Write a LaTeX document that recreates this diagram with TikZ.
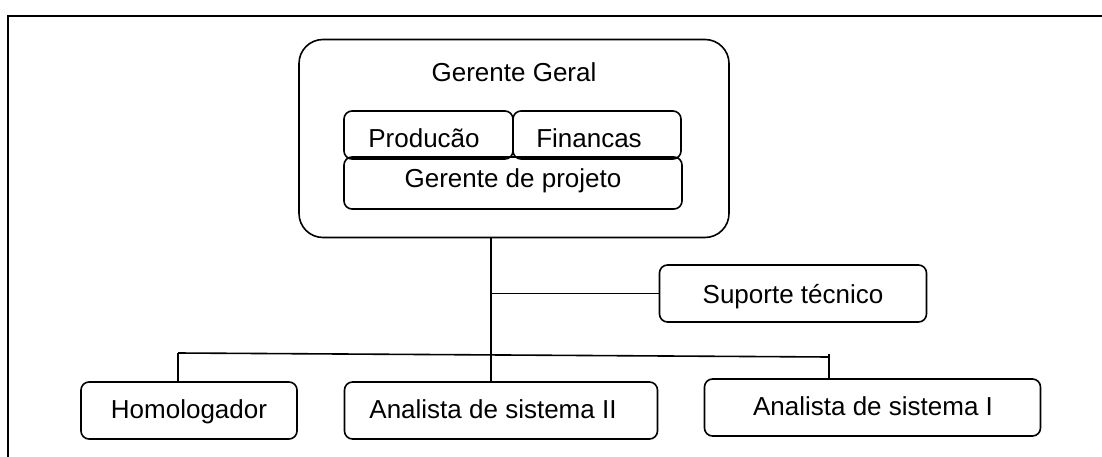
\documentclass[tikz,border=0pt]{standalone}
\usepackage{fontspec}
\setmainfont{Liberation Sans}
\begin{document}
\begin{tikzpicture}[x=1pt,y=-1pt,line width=1.6pt,
  box/.style={draw,rounded corners=8pt,inner sep=0pt},
  lbl/.style={anchor=base,inner sep=0pt,font=\fontsize{26}{30}\selectfont}]
\useasboundingbox (0,0) rectangle (1102,457);
% frame
\draw (8,460) -- (8,16) -- (1105,16);
% boxes
\node[box,rounded corners=24pt,minimum width=430pt,minimum height=198pt] (gg) at (514,138.5) {};
\node[box,minimum width=338pt,minimum height=52pt] (gp) at (513,183) {};
\node[box,minimum width=169pt,minimum height=48pt] (prod) at (428.5,135) {};
\node[box,minimum width=168pt,minimum height=48pt] (fin) at (597,135) {};
\node[box,minimum width=267pt,minimum height=57pt] (sup) at (793,293.5) {};
\node[box,minimum width=216pt,minimum height=57pt] (hom) at (189,410.5) {};
\node[box,minimum width=313pt,minimum height=57pt] (a2) at (501,410.5) {};
\node[box,minimum width=336pt,minimum height=57pt] (a1) at (872.5,407.5) {};
% texts
\node[lbl] (ggt) at (514,82) {Gerente Geral};
\node[lbl] (prodt) at (424,148) {Producão};
\node[lbl] (fint) at (589,148) {Financas};
\node[lbl] (gpt) at (513,188) {Gerente de projeto};
\node[lbl] (supt) at (793,303) {Suporte técnico};
\node[lbl] (homt) at (189,418) {Homologador};
\node[lbl] (a2t) at (493,418) {Analista de sistema II};
\node[lbl] (a1t) at (873,415.5) {Analista de sistema I};
% connectors
\coordinate (stem) at (491,0);
\coordinate (barL) at (178,353);
\coordinate (barR) at (829,357);
\draw (gg.south -| stem) -- (a2.north -| stem);
\draw (sup.west -| stem) -- (sup.west);
\draw (barL) -- (barR);
\draw (barL) -- (hom.north -| barL);
\draw ([yshift=3pt]barR) -- (a1.north -| barR);
\end{tikzpicture}
\end{document}
